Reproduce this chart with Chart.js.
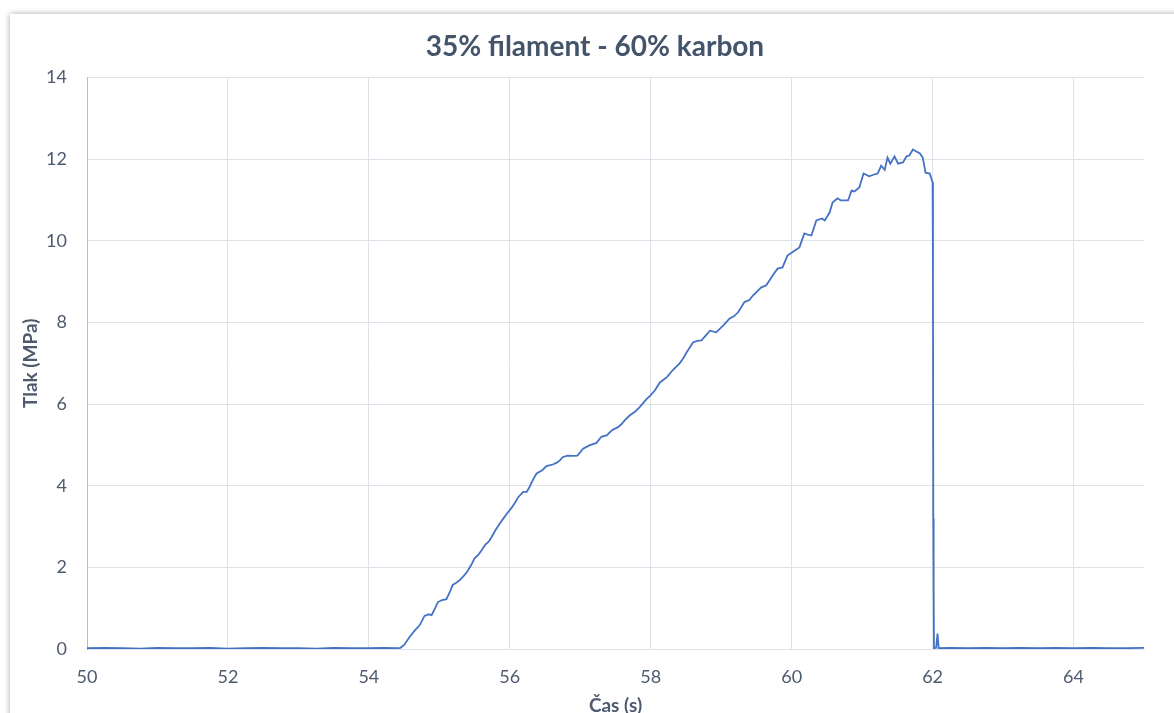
<!DOCTYPE html>
<html>
<head>
<meta charset="utf-8">
<script src="https://cdn.jsdelivr.net/npm/chart.js@4.4.1/dist/chart.umd.min.js"></script>
<style>
  html, body { margin: 0; padding: 0; background: #fff; overflow: hidden; }
  body { width: 1174px; height: 713px; position: relative; }
  .card {
    position: absolute; left: 10px; top: 14px;
    width: 1170px; height: 710px;
    background: #fff;
    box-shadow: 0 0 6px rgba(0, 0, 0, 0.35);
  }
  #chart { display: block; }
</style>
</head>
<body>
<div class="card">
  <canvas id="chart" width="1170" height="710"></canvas>
</div>
<script>
// Čas (s) a tlak (MPa)
const cas = [
  50.0, 50.25, 50.5, 50.75, 51.0, 51.25, 51.5, 51.75, 52.0, 52.25, 52.5, 52.75,
  53.0, 53.25, 53.5, 53.75, 54.0, 54.2, 54.4, 54.45, 54.5, 54.58, 54.65, 54.72,
  54.79, 54.85, 54.89, 54.94, 54.98, 55.04, 55.1, 55.15, 55.19, 55.24, 55.29, 55.34,
  55.39, 55.45, 55.5, 55.55, 55.6, 55.65, 55.7, 55.74, 55.8, 55.86, 55.91, 55.96,
  56.03, 56.08, 56.12, 56.19, 56.24, 56.28, 56.33, 56.38, 56.46, 56.52, 56.61, 56.66,
  56.71, 56.75, 56.82, 56.9, 56.96, 57.04, 57.13, 57.23, 57.3, 57.38, 57.45, 57.53,
  57.58, 57.63, 57.7, 57.78, 57.84, 57.94, 58.0, 58.06, 58.13, 58.23, 58.31, 58.41,
  58.46, 58.51, 58.6, 58.66, 58.72, 58.78, 58.84, 58.93, 59.03, 59.12, 59.18, 59.24,
  59.33, 59.4, 59.45, 59.51, 59.57, 59.64, 59.73, 59.8, 59.87, 59.94, 60.04, 60.11,
  60.18, 60.23, 60.28, 60.35, 60.43, 60.47, 60.54, 60.58, 60.65, 60.7, 60.8, 60.85,
  60.89, 60.96, 61.02, 61.1, 61.16, 61.22, 61.27, 61.32, 61.36, 61.4, 61.46, 61.51,
  61.58, 61.63, 61.67, 61.72, 61.77, 61.82, 61.86, 61.9, 61.96, 62.0, 62.005, 62.01,
  62.015, 62.02, 62.05, 62.07, 62.085, 62.25, 62.5, 62.75, 63.0, 63.25, 63.5, 63.75,
  64.0, 64.25, 64.5, 64.75, 65.0
];
const tlak = [
  0.02, 0.03, 0.02, 0.01, 0.03, 0.02, 0.02, 0.03, 0.01, 0.02, 0.03, 0.02,
  0.02, 0.01, 0.03, 0.02, 0.02, 0.03, 0.02, 0.03, 0.10, 0.30, 0.45, 0.58,
  0.81, 0.85, 0.83, 1.00, 1.15, 1.20, 1.22, 1.40, 1.57, 1.62, 1.69, 1.78,
  1.88, 2.05, 2.22, 2.30, 2.42, 2.55, 2.63, 2.74, 2.92, 3.08, 3.20, 3.32,
  3.47, 3.60, 3.72, 3.85, 3.85, 3.97, 4.15, 4.30, 4.38, 4.48, 4.52, 4.56,
  4.62, 4.70, 4.74, 4.73, 4.74, 4.91, 4.99, 5.05, 5.20, 5.24, 5.36, 5.43,
  5.50, 5.60, 5.72, 5.82, 5.92, 6.12, 6.22, 6.34, 6.53, 6.66, 6.83, 7.00,
  7.12, 7.27, 7.51, 7.55, 7.56, 7.68, 7.80, 7.76, 7.93, 8.10, 8.15, 8.25,
  8.50, 8.55, 8.66, 8.76, 8.86, 8.91, 9.15, 9.32, 9.35, 9.64, 9.76, 9.84,
  10.18, 10.15, 10.13, 10.50, 10.55, 10.50, 10.70, 10.94, 11.04, 10.99, 10.99, 11.23,
  11.21, 11.31, 11.65, 11.58, 11.62, 11.65, 11.84, 11.74, 12.04, 11.89, 12.07, 11.89,
  11.92, 12.07, 12.09, 12.24, 12.19, 12.14, 12.04, 11.67, 11.65, 11.43, 9.20, 3.20,
  1.50, 0.02, 0.03, 0.38, 0.02, 0.03, 0.02, 0.03, 0.02, 0.03, 0.02, 0.03,
  0.02, 0.03, 0.02, 0.02, 0.03
];
const xTicks = [50, 52, 54, 56, 58, 60, 62, 64];
const yTicks = [0, 2, 4, 6, 8, 10, 12, 14];

const textColor = '#4E5A6D';
const gridColor = '#DDE1E8';
const fontFamily = 'Lato, "Open Sans", sans-serif';

const body = cas.map((t, i) => ({ x: t, y: tlak[i] }));

// nadpis centrovat přes celou šířku plátna, ne jen bez pravého okraje
const titleFullWidth = {
  id: 'titleFullWidth',
  afterLayout(chart) {
    if (chart.titleBlock) {
      chart.titleBlock.left = 0;
      chart.titleBlock.right = chart.width;
      chart.titleBlock.width = chart.width;
    }
  }
};

new Chart(document.getElementById('chart').getContext('2d'), {
  type: 'scatter',
  data: {
    datasets: [{
      data: body,
      showLine: true,
      borderColor: '#4472C4',
      borderWidth: 1.8,
      pointRadius: 0,
      tension: 0
    }]
  },
  options: {
    responsive: false,
    animation: false,
    layout: { padding: { top: 0, right: 36, bottom: 0, left: 0 } },
    plugins: {
      legend: { display: false },
      tooltip: { enabled: false },
      title: {
        display: true,
        text: '35% filament - 60% karbon',
        color: '#44546A',
        font: { family: fontFamily, size: 28, weight: 'bold', lineHeight: 1.2 },
        padding: { top: 16, bottom: 14 }
      }
    },
    scales: {
      x: {
        type: 'linear',
        min: 50,
        max: 65,
        afterBuildTicks: axis => { axis.ticks = xTicks.map(v => ({ value: v })); },
        afterFit: axis => { axis.height = 75; },
        ticks: {
          color: textColor,
          font: { family: fontFamily, size: 18 },
          padding: 17,
          maxRotation: 0
        },
        grid: { color: gridColor, lineWidth: 1, drawTicks: false },
        border: { color: gridColor },
        title: {
          display: true,
          text: 'Čas (s)',
          color: textColor,
          font: { family: fontFamily, size: 19, weight: 'bold', lineHeight: 1.2 },
          padding: { top: 0, bottom: 7 }
        }
      },
      y: {
        min: 0,
        max: 14,
        afterBuildTicks: axis => { axis.ticks = yTicks.map(v => ({ value: v })); },
        afterFit: axis => { axis.width = 77; },
        ticks: {
          color: textColor,
          font: { family: fontFamily, size: 18 },
          padding: 20
        },
        grid: { color: gridColor, lineWidth: 1, drawTicks: false },
        border: { color: '#B3BCCB' },
        title: {
          display: true,
          text: 'Tlak (MPa)',
          color: textColor,
          font: { family: fontFamily, size: 19, weight: 'bold', lineHeight: 1.2 },
          padding: { top: 9, bottom: 0 }
        }
      }
    }
  },
  plugins: [titleFullWidth]
});
</script>
</body>
</html>
